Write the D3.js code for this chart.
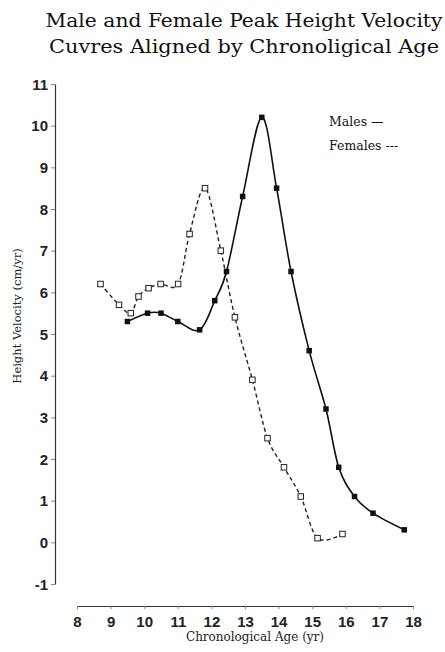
<!DOCTYPE html>
<html>
<head>
<meta charset="utf-8">
<script src="https://cdn.jsdelivr.net/npm/d3@7"></script>
<style>
  body { margin: 0; background: #fff; }
  svg { display: block; }
  .tick text { font-family: 'Liberation Sans', Arial, sans-serif; font-weight: bold; font-size: 15px; fill: #222; }
</style>
</head>
<body>
<div id="chart"></div>
<script>
// ages (yr) and velocities (cm/yr)
const maleAge = [9.5, 10.1, 10.5, 11.0, 11.65, 12.1, 12.45, 12.93, 13.5, 13.94, 14.37, 14.91, 15.41, 15.79, 16.26, 16.81, 17.74];
const maleVel = [5.3, 5.5, 5.5, 5.3, 5.1, 5.8, 6.5, 8.3, 10.2, 8.5, 6.5, 4.6, 3.2, 1.8, 1.1, 0.7, 0.3];
const femaleAge = [8.7, 9.25, 9.6, 9.83, 10.13, 10.49, 11.01, 11.35, 11.81, 12.28, 12.7, 13.22, 13.67, 14.16, 14.66, 15.16, 15.9];
const femaleVel = [6.2, 5.7, 5.5, 5.9, 6.1, 6.2, 6.2, 7.4, 8.5, 7.0, 5.4, 3.9, 2.5, 1.8, 1.1, 0.1, 0.2];
const xTicks = [8, 9, 10, 11, 12, 13, 14, 15, 16, 17, 18];
const yTicks = [-1, 0, 1, 2, 3, 4, 5, 6, 7, 8, 9, 10, 11];
const titleLines = ["Male and Female Peak Height Velocity", "Cuvres Aligned by Chronoligical Age"];

const width = 445, height = 652;
const serif = "'DejaVu Serif', serif";

const svg = d3.select("#chart").append("svg")
    .attr("width", width)
    .attr("height", height);

const x = d3.scaleLinear().domain([8, 18]).range([77, 413]);
const y = d3.scaleLinear().domain([-1, 11]).range([584, 84]);

// title
svg.append("g").selectAll("text")
  .data(titleLines)
  .enter().append("text")
    .attr("x", 244)
    .attr("y", (d, i) => 27 + i * 26)
    .attr("text-anchor", "middle")
    .attr("font-family", serif)
    .attr("font-size", 19)
    .attr("textLength", (d, i) => i == 0 ? 397 : 390)
    .attr("lengthAdjust", "spacingAndGlyphs")
    .attr("fill", "#111")
    .text(d => d);

// axes
const yAxis = svg.append("g")
    .attr("transform", "translate(55,0)")
    .call(d3.axisLeft(y).tickValues(yTicks).tickSize(4).tickSizeOuter(0).tickPadding(3).tickFormat(d => String(d).replace("\u2212", "-")));

const xAxis = svg.append("g")
    .attr("transform", "translate(0,606)")
    .call(d3.axisBottom(x).tickValues(xTicks).tickSize(3).tickSizeOuter(0).tickPadding(7).tickFormat(d => d));

[yAxis, xAxis].forEach(a => {
  a.select(".domain").attr("stroke", "#333").attr("stroke-width", 1.2);
  a.selectAll(".tick line").attr("stroke", "#888");
});
yAxis.selectAll(".tick text").attr("dy", "0.35em");

// axis titles
svg.append("text")
    .attr("transform", "translate(21,316) rotate(-90)")
    .attr("text-anchor", "middle")
    .attr("font-family", serif)
    .attr("font-size", 11.5)
    .attr("fill", "#222")
    .text("Height Velocity (cm/yr)");

svg.append("text")
    .attr("x", 255)
    .attr("y", 641)
    .attr("text-anchor", "middle")
    .attr("font-family", serif)
    .attr("font-size", 12)
    .attr("fill", "#222")
    .text("Chronological Age (yr)");

// lines
const line = d3.line()
    .x(d => x(d[0]))
    .y(d => y(d[1]))
    .curve(d3.curveCardinal.tension(0));

const males = d3.zip(maleAge, maleVel);
const females = d3.zip(femaleAge, femaleVel);

svg.append("path")
    .datum(females)
    .attr("d", line)
    .attr("fill", "none")
    .attr("stroke", "#222")
    .attr("stroke-width", 1.4)
    .attr("stroke-dasharray", "4,3");

svg.append("path")
    .datum(males)
    .attr("d", line)
    .attr("fill", "none")
    .attr("stroke", "#111")
    .attr("stroke-width", 1.6);

const s = 5.5;
svg.append("g").selectAll("rect")
  .data(females)
  .enter().append("rect")
    .attr("x", d => x(d[0]) - s / 2)
    .attr("y", d => y(d[1]) - s / 2)
    .attr("width", s)
    .attr("height", s)
    .attr("fill", "#fff")
    .attr("stroke", "#222")
    .attr("stroke-width", 1);

svg.append("g").selectAll("rect")
  .data(males)
  .enter().append("rect")
    .attr("x", d => x(d[0]) - s / 2)
    .attr("y", d => y(d[1]) - s / 2)
    .attr("width", s)
    .attr("height", s)
    .attr("fill", "#111");

// legend
svg.append("g").selectAll("text")
  .data(["Males \u2014", "Females ---"])
  .enter().append("text")
    .attr("x", 329)
    .attr("y", (d, i) => 126 + i * 24)
    .attr("font-family", serif)
    .attr("font-size", 12.5)
    .attr("fill", "#111")
    .text(d => d);
</script>
</body>
</html>
